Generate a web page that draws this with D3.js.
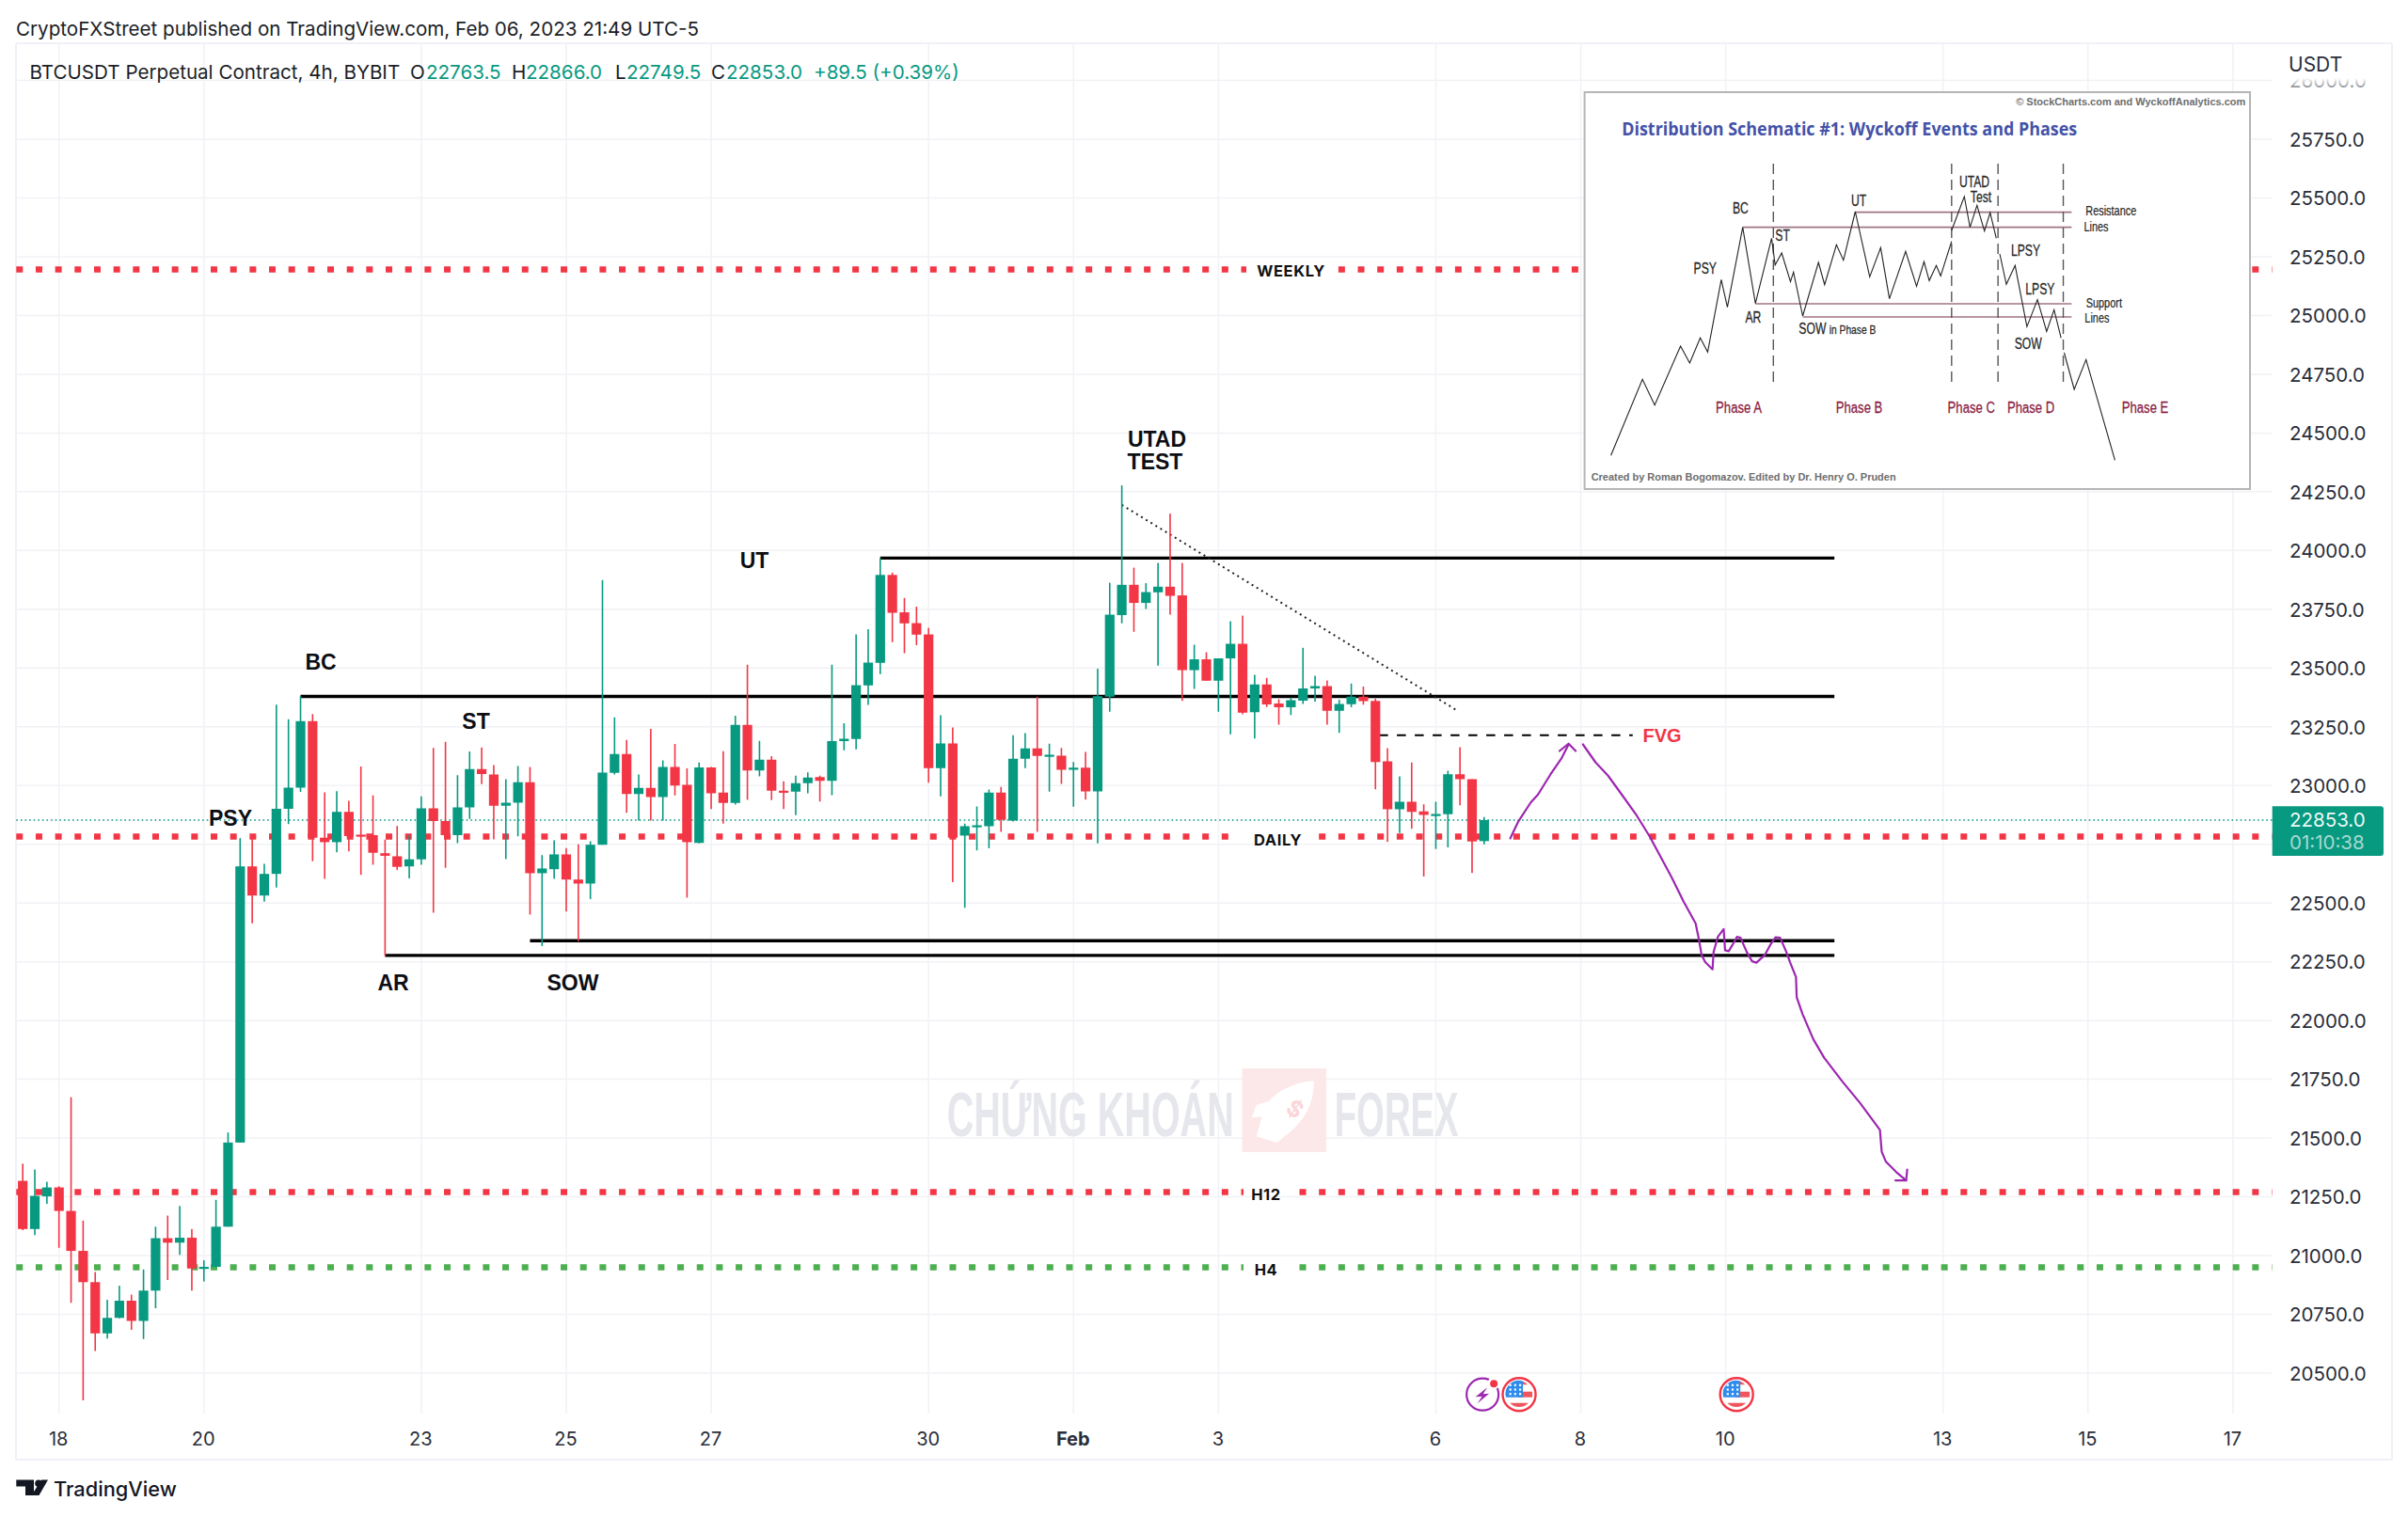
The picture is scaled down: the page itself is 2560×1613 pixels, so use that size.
<!DOCTYPE html>
<html>
<head>
<meta charset="utf-8">
<title>BTCUSDT 4h</title>
<script src="https://d3js.org/d3.v7.min.js"></script>
<style>
  html, body { margin: 0; padding: 0; background: #fff; }
  svg { display: block; font-family: Inter, "Noto Sans", sans-serif; }
  .axis path { display: none; }
  .axis text { fill: #2a2e39; }
  .ann { font-family: "Liberation Sans", Arial, sans-serif; font-weight: 700; fill: #0c0e14; }
  .mini { font-family: "Liberation Sans", sans-serif; fill: #262626; }
</style>
</head>
<body>
<svg width="2560" height="1613"></svg>
<script>
// candles, 4h bars starting Jan 17 12:00
var candleOpen = [21318,21113,21252,21290,21190,21020,20887,20669,20735,20808,
  20722,20851,21074,21055,21076,20945,20952,21123,21481,22656,
  22532,22624,22901,22991,23274,22778,22759,22888,22791,22789,
  22712,22699,22656,22686,22903,22849,22789,22907,23070,23047,
  22914,22927,23014,22627,22644,22707,22600,22583,22748,23054,
  23134,22964,22990,22951,23079,23003,22756,23077,22970,22926,
  23258,23064,23110,22978,22974,23010,23036,23020,23189,23198,
  23426,23522,23896,23737,23691,23643,23074,23179,22787,22826,
  22827,22970,22851,23114,23158,23123,23127,23067,23076,22975,
  23378,23725,23854,23777,23822,23846,23809,23491,23537,23446,
  23541,23603,23312,23430,23349,23333,23361,23413,23423,23318,
  23346,23378,23360,23103,22899,22931,22890,22875,22878,23048,
  23027,22763.5];
var candleHigh = [21391,21366,21314,21295,21674,21149,20930,20812,20872,20834,
  20941,21123,21170,21211,21113,20980,21237,21524,22776,22776,
  22667,23344,23282,23381,23304,22971,22976,22935,23081,22958,
  22770,22828,22789,22954,23160,23186,23044,23145,23162,23087,
  23027,23083,23079,22704,22767,22734,22750,22763,23874,23290,
  23194,23047,23241,23107,23177,23073,23098,23079,23146,23297,
  23514,23190,23125,23018,23042,23056,23042,23514,23265,23643,
  23665,23968,23906,23798,23761,23671,23299,23247,22838,22911,
  22983,22994,23214,23223,23378,23178,23160,23100,23143,23497,
  23863,24277,23927,23861,23947,24157,23947,23599,23567,23541,
  23699,23723,23471,23458,23367,23374,23586,23467,23447,23365,
  23434,23421,23370,23159,23039,23098,22920,22931,23063,23163,
  23027,22866];
var candleLow = [21108,21087,21220,21033,20799,20384,20594,20647,20733,20684,
  20645,20776,20896,21003,20851,20890,20952,21123,21481,22414,
  22506,22566,22836,22973,22678,22603,22716,22720,22620,22663,
  22275,22641,22605,22663,22459,22650,22755,22858,23006,22771,
  22687,22784,22451,22317,22603,22464,22337,22517,22748,23047,
  22884,22851,22851,22851,22958,22523,22754,22900,22838,22919,
  22939,23039,22938,22900,22874,22967,22932,22959,23150,23154,
  23343,23474,23610,23563,23597,23012,22954,22589,22480,22724,
  22733,22803,22847,23074,22803,22974,23007,22910,22940,22754,
  23314,23690,23654,23751,23510,23727,23360,23411,23446,23314,
  23218,23303,23200,23334,23259,23300,23347,23357,23259,23224,
  23333,23344,22984,22760,22798,22816,22613,22730,22737,22916,
  22628,22749.5];
var candleClose = [21113,21254,21290,21190,21020,20887,20669,20735,20808,20722,
  20851,21074,21055,21076,20945,20952,21123,21481,22656,22532,
  22624,22901,22991,23274,22778,22759,22888,22785,22785,22714,
  22701,22654,22686,22903,22849,22789,22907,23070,23049,22914,
  22927,23014,22627,22647,22707,22600,22583,22748,23055,23134,
  22964,22990,22951,23079,23000,22759,23077,22967,22926,23258,
  23064,23110,22978,22974,23010,23034,23020,23189,23199,23427,
  23523,23896,23735,23690,23642,23074,23179,22778,22827,22831,
  22970,22854,23114,23158,23126,23131,23067,23076,22975,23380,
  23727,23854,23777,23823,23846,23807,23491,23537,23446,23541,
  23603,23310,23430,23345,23333,23363,23413,23423,23318,23347,
  23378,23359,23100,22899,22931,22888,22875,22879,23048,23027,
  22762,22853];

var priceTicks = d3.range(20500, 26001, 250);
var dayIndex = [3,15,33,45,57,75,87,99,117,129,141,159,171,183];
var dayLabels = ["18","20","23","25","27","30","Feb","3","6","8","10","13","15","17"];

// key levels, [price, label]
var levelPrices = [25196, 22783, 21270, 20950];
var levelNames = ["WEEKLY", "DAILY", "H12", "H4"];
var levelColors = ["#f23645", "#f23645", "#f23645", "#4caf50"];
var levelGapFrom = [1325, 1317, 1322, 1322];
var levelGapTo = [1420, 1400, 1370, 1370];

// structure lines, start bar and price, all run to bar 150
var rangeStart = [71, 23, 42, 30];
var rangePrice = [23968, 23379, 22340, 22277];
var rangeEnd = 150;

// hand drawn projection, bar index / price
var legUpBar = [123.16,123.81,124.86,125.45,126.49,127.39,127.99];
var legUpPrice = [22775,22845,22928,22961,23047,23114,23175];
var headUpBar = [127.24,127.99,128.58];
var headUpPrice = [23147,23178,23147];
var legDownBar = [129.18,130.22,131.26,132.46,133.65,134.69,135.59,136.48,137.52,138.51,138.77,139.01,139.31,139.91,
  140.0,140.35,140.83,140.95,141.25,141.55,141.93,142.23,142.74,143.19,143.54,144.23,144.68,145.12,145.51,146.02,146.32,
  146.82,146.88,147.36,148.25,149.15,150.64,152.13,153.77,153.92,154.27,155.11,155.94];
var legDownPrice = [23175,23099,23042,22957,22871,22785,22699,22614,22506,22414,22349,22278,22249,22218,
  22292,22356,22389,22299,22295,22321,22356,22352,22292,22252,22246,22278,22321,22354,22352,22292,22249,
  22185,22099,22028,21921,21842,21742,21649,21535,21442,21399,21356,21320];
var headDownBar = [155.05,155.94,156.03];
var headDownPrice = [21320,21320,21366];

// schematic inset, in its own picture units
var schemX = [70,142,170,229,250,274,291,322,336,371,400,437,445,460,480,487,508,544,558,585,601,628,661,686,706,743,768,785,797,813,823,848];
var schemY = [1183,940,1022,834,888,808,853,622,710,455,698,490,575,537,628,598,738,567,638,511,560,405,613,520,683,532,643,565,625,577,610,500];
var schem2X = [848,877,890,906,923,936,950];
var schem2Y = [465,357,455,385,467,408,490];
var schem3X = [958,973,993,1020,1044,1065,1082,1098];
var schem3Y = [540,637,577,772,686,787,718,808];
var schem4X = [1105,1128,1155,1221];
var schem4Y = [855,972,877,1198];
var phaseLineX = [441,848,954,1103];
var resLineFrom = [628,371,400,508];
var resLineY = [407,455,699,741];
var miniLabels = ["PSY","BC","ST","AR","UT","UTAD","Test","LPSY","LPSY","SOW"];
var miniLabelX = [285,366,462,395,636,900,915,1017,1050,1023];
var miniLabelY = [603,412,497,760,388,327,375,545,670,842];
var sideLabels = ["Resistance","Lines","Support","Lines"];
var sideLabelX = [1212,1178,1196,1180];
var sideLabelY = [418,468,712,760];
var phaseLabels = ["Phase A","Phase B","Phase C","Phase D","Phase E"];
var phaseLabelX = [362,637,893,1029,1290];

var GREEN = "#089981", RED = "#f23645", PURPLE = "#9c27b0";

var svg = d3.select("svg");
var x = d3.scaleLinear().domain([3, 183]).range([62.7, 2373.9]);
var y = d3.scaleLinear().domain([25750, 20500]).range([148, 1460]);
var insetX = d3.scaleLinear().domain([0, 1568]).range([1680, 2410]);
var insetY = d3.scaleLinear().domain([0, 1320]).range([90, 530]);
var chartLeft = 17.3, chartRight = 2415.5, chartTop = 46, chartBottom = 1503;

// frame
svg.append("g").attr("stroke", "#f0f1f6").attr("stroke-width", 2)
  .selectAll("line")
  .data([[17, 46, 2543, 46], [17, 46, 17, 1552], [2543, 46, 2543, 1552], [17, 1552, 2543, 1552]])
  .enter().append("line")
  .attr("x1", function(d) { return d[0]; }).attr("y1", function(d) { return d[1]; })
  .attr("x2", function(d) { return d[2]; }).attr("y2", function(d) { return d[3]; });

// grid
var grid = svg.append("g").attr("stroke", "#f1f2f6").attr("stroke-width", 1.5);
grid.selectAll("line.h").data(priceTicks).enter().append("line").attr("class", "h")
  .attr("x1", chartLeft).attr("x2", chartRight)
  .attr("y1", function(d) { return y(d); }).attr("y2", function(d) { return y(d); });
grid.selectAll("line.v").data(dayIndex).enter().append("line").attr("class", "v")
  .attr("y1", chartTop).attr("y2", chartBottom)
  .attr("x1", function(d) { return x(d); }).attr("x2", function(d) { return x(d); });

// watermark, squeezed to the logo's condensed lettering
function squeezed(t, left, base, width) {
  var el = mark.append("text").text(t)
    .attr("font-family", "'Liberation Sans'").attr("font-weight", 700)
    .attr("font-size", 67).attr("fill", "#e6e7ec");
  var k = width / el.node().getComputedTextLength();
  el.attr("transform", "translate(" + left + "," + base + ") scale(" + k + ",1)");
}
var mark = svg.append("g");
squeezed("CHỨNG KHOÁN", 1006.7, 1208, 305);
mark.append("rect").attr("x", 1320.6).attr("y", 1136).attr("width", 89.4).attr("height", 89).attr("fill", "#fde8e9");
mark.append("path")
  .attr("transform", "translate(960,1100) scale(0.3954,0.3333)")
  .attr("d", "M1105,148 C1060,150 1005,180 985,212 L950,225 L938,265 L965,262 L950,325 L1005,345 L1040,312 C1090,262 1105,205 1105,148 Z")
  .attr("fill", "#fff");
mark.append("text").text("$")
  .attr("transform", "translate(1372,1186) rotate(35)")
  .attr("text-anchor", "middle").attr("font-size", 24).attr("font-weight", 700).attr("fill", "#fbd5d8");
squeezed("FOREX", 1418.7, 1208, 132);

// dotted key levels, split around their labels and keeping the dash phase
function levelPiece(i, from, to) {
  svg.append("line")
    .attr("x1", from).attr("x2", to)
    .attr("y1", y(levelPrices[i])).attr("y2", y(levelPrices[i]))
    .attr("stroke", levelColors[i]).attr("stroke-width", 6.6)
    .attr("stroke-dasharray", "7 13.67")
    .attr("stroke-dashoffset", from - chartLeft);
}
levelPrices.forEach(function(p, i) {
  levelPiece(i, chartLeft, levelGapFrom[i]);
  levelPiece(i, levelGapTo[i], chartRight);
});
svg.selectAll("text.level").data(levelNames).enter().append("text")
  .attr("class", "level")
  .attr("x", function(d, i) { return (levelGapFrom[i] + levelGapTo[i]) / 2; })
  .attr("y", function(d, i) { return y(levelPrices[i]) + (d == "DAILY" ? 9.5 : 8); })
  .attr("text-anchor", "middle").attr("font-size", 16.5).attr("font-weight", 700)
  .attr("letter-spacing", 0.6).attr("fill", "#111")
  .text(function(d) { return d; });

// last price line
svg.append("line")
  .attr("x1", chartLeft).attr("x2", chartRight)
  .attr("y1", y(22853)).attr("y2", y(22853))
  .attr("stroke", GREEN).attr("stroke-width", 1.6).attr("stroke-dasharray", "1.6 3");

// structure lines
svg.append("g").selectAll("line").data(rangeStart).enter().append("line")
  .attr("x1", function(d) { return x(d); }).attr("x2", x(rangeEnd))
  .attr("y1", function(d, i) { return y(rangePrice[i]); })
  .attr("y2", function(d, i) { return y(rangePrice[i]); })
  .attr("stroke", "#000").attr("stroke-width", 3.4);

// FVG and trend line
svg.append("line")
  .attr("x1", x(112.3)).attr("x2", x(133.3)).attr("y1", y(23214)).attr("y2", y(23214))
  .attr("stroke", "#000").attr("stroke-width", 2).attr("stroke-dasharray", "9.5 9.5");
svg.append("line")
  .attr("x1", x(91)).attr("x2", x(118.8)).attr("y1", y(24194)).attr("y2", y(23318))
  .attr("stroke", "#222").attr("stroke-width", 2).attr("stroke-dasharray", "2 4");

// candles
var candles = svg.append("g").selectAll("g").data(candleOpen).enter().append("g")
  .attr("fill", function(d, i) { return candleClose[i] >= d ? GREEN : RED; });
candles.append("rect")
  .attr("x", function(d, i) { return x(i) - 0.8; })
  .attr("width", 1.6)
  .attr("y", function(d, i) { return y(candleHigh[i]); })
  .attr("height", function(d, i) { return y(candleLow[i]) - y(candleHigh[i]); });
candles.append("rect")
  .attr("x", function(d, i) { return x(i) - 5.1; })
  .attr("width", 10.2)
  .attr("y", function(d, i) { return y(Math.max(d, candleClose[i])); })
  .attr("height", function(d, i) { return Math.max(2.2, Math.abs(y(d) - y(candleClose[i]))); });

// hand drawn arrows
var drawn = d3.line()
  .x(function(d) { return x(d[0]); })
  .y(function(d) { return y(d[1]); });
[[legUpBar, legUpPrice], [headUpBar, headUpPrice], [legDownBar, legDownPrice], [headDownBar, headDownPrice]].forEach(function(s) {
  svg.append("path")
    .attr("d", drawn(d3.zip(s[0], s[1])))
    .attr("fill", "none").attr("stroke", PURPLE).attr("stroke-width", 2.2).attr("stroke-linejoin", "round").attr("stroke-linecap", "round");
});

// event labels
function ann(t, cx, by, size) {
  svg.append("text").attr("class", "ann").attr("x", cx).attr("y", by)
    .attr("text-anchor", "middle").attr("font-size", size || 23).text(t);
}
ann("PSY", 245, 878);
ann("BC", 341, 712);
ann("ST", 506, 775);
ann("AR", 418, 1053);
ann("SOW", 609, 1053);
ann("UT", 802, 604);
ann("UTAD", 1230, 475);
ann("TEST", 1228, 499);
svg.append("text").attr("class", "ann").attr("x", 1767).attr("y", 789).attr("text-anchor", "middle")
  .attr("font-size", 20).style("fill", RED).text("FVG");

// schematic inset
var inset = svg.append("g");
inset.append("rect").attr("x", 1684.6).attr("y", 98).attr("width", 707.4).attr("height", 422)
  .attr("fill", "#fff").attr("stroke", "#b5b5b5").attr("stroke-width", 2);
var miniLine = d3.line()
  .x(function(d) { return insetX(d[0]); })
  .y(function(d) { return insetY(d[1]); });
inset.selectAll("line.res").data(resLineFrom).enter().append("line").attr("class", "res")
  .attr("x1", function(d) { return insetX(d); }).attr("x2", insetX(1122))
  .attr("y1", function(d, i) { return insetY(resLineY[i]); })
  .attr("y2", function(d, i) { return insetY(resLineY[i]); })
  .attr("stroke", "#a07484").attr("stroke-width", 1.6);
inset.selectAll("line.phase").data(phaseLineX).enter().append("line").attr("class", "phase")
  .attr("x1", function(d) { return insetX(d); }).attr("x2", function(d) { return insetX(d); })
  .attr("y1", insetY(252)).attr("y2", insetY(955))
  .attr("stroke", "#555").attr("stroke-width", 1.4).attr("stroke-dasharray", "11 6");
[[schemX, schemY], [schem2X, schem2Y], [schem3X, schem3Y], [schem4X, schem4Y]].forEach(function(s) {
  inset.append("path").attr("d", miniLine(d3.zip(s[0], s[1])))
    .attr("fill", "none").attr("stroke", "#222").attr("stroke-width", 1.1);
});
// narrow lettering of the pasted picture
function placeNarrow(cx, by, k) {
  return "translate(" + insetX(cx) + "," + insetY(by) + ") scale(" + k + ",1)";
}
inset.selectAll("text.mini1").data(miniLabels).enter().append("text").attr("class", "mini mini1")
  .attr("transform", function(d, i) { return placeNarrow(miniLabelX[i], miniLabelY[i], 0.76); })
  .attr("text-anchor", "middle").attr("font-size", 16).attr("stroke", "#262626").attr("stroke-width", 0.25)
  .text(function(d) { return d; });
inset.append("text").attr("class", "mini")
  .attr("transform", placeNarrow(587, 795, 0.76))
  .attr("text-anchor", "middle").attr("font-size", 16).attr("stroke", "#262626").attr("stroke-width", 0.25)
  .html('SOW <tspan font-size="13.5">in Phase B</tspan>');
inset.selectAll("text.mini2").data(sideLabels).enter().append("text").attr("class", "mini mini2")
  .attr("transform", function(d, i) { return placeNarrow(sideLabelX[i], sideLabelY[i], 0.78); })
  .attr("text-anchor", "middle").attr("font-size", 14).attr("stroke", "#262626").attr("stroke-width", 0.2)
  .text(function(d) { return d; });
inset.selectAll("text.mini3").data(phaseLabels).enter().append("text").attr("class", "mini mini3")
  .attr("transform", function(d, i) { return placeNarrow(phaseLabelX[i], 1046, 0.82); })
  .attr("text-anchor", "middle").attr("font-size", 16).attr("stroke", "#8b1c3f").attr("stroke-width", 0.25)
  .style("fill", "#8b1c3f")
  .text(function(d) { return d; });
inset.append("text").text("Distribution Schematic #1: Wyckoff Events and Phases")
  .attr("x", insetX(95)).attr("y", insetY(162))
  .attr("textLength", 484).attr("lengthAdjust", "spacingAndGlyphs")
  .attr("font-family", "'Open Sans'").attr("font-size", 19).attr("font-weight", 700).attr("fill", "#4452a8");
inset.append("text").text("© StockCharts.com and WyckoffAnalytics.com")
  .attr("x", insetX(995)).attr("y", insetY(65))
  .attr("textLength", 244).attr("lengthAdjust", "spacingAndGlyphs")
  .attr("font-family", "'Liberation Sans'").attr("font-size", 11).attr("font-weight", 700).attr("fill", "#6e6e6e");
inset.append("text").text("Created by Roman Bogomazov. Edited by Dr. Henry O. Pruden")
  .attr("x", insetX(25)).attr("y", insetY(1263))
  .attr("textLength", 324).attr("lengthAdjust", "spacingAndGlyphs")
  .attr("font-family", "'Liberation Sans'").attr("font-size", 11.5).attr("font-weight", 700).attr("fill", "#6e6e6e");

// price axis
var priceAxis = d3.axisRight(y).tickValues(priceTicks).tickSize(0).tickPadding(0).tickFormat(d3.format(".1f"));
svg.append("g").attr("class", "axis")
  .attr("transform", "translate(2434,0.7)")
  .call(priceAxis)
  .selectAll("text").attr("font-family", "Inter").attr("font-size", 20.5);

// top of the axis fades under the currency label
var fade = svg.append("defs").append("linearGradient").attr("id", "fade").attr("x1", 0).attr("x2", 0).attr("y1", 0).attr("y2", 1);
fade.append("stop").attr("offset", "0%").attr("stop-color", "#fff");
fade.append("stop").attr("offset", "100%").attr("stop-color", "#fff").attr("stop-opacity", 0.35);
svg.append("rect").attr("x", 2420).attr("y", 47).attr("width", 120).attr("height", 36).attr("fill", "#fff");
svg.append("rect").attr("x", 2420).attr("y", 83).attr("width", 120).attr("height", 12).attr("fill", "url(#fade)");
svg.append("text").text("USDT").attr("x", 2433).attr("y", 76).attr("font-size", 21).attr("fill", "#2a2e39");

// last price tag
svg.append("path").attr("d", "M2415.7,857.3 H2531 a3,3 0 0 1 3,3 V907 a3,3 0 0 1 -3,3 H2415.7 Z").attr("fill", GREEN);
svg.append("text").text("22853.0").attr("x", 2434).attr("y", 879).attr("font-size", 20.5).attr("fill", "#fff").attr("fill-opacity", 0.95);
svg.append("text").text("01:10:38").attr("x", 2434).attr("y", 903).attr("font-size", 20.5).attr("fill", "#fff").attr("fill-opacity", 0.65);

// time axis
var timeAxis = d3.axisBottom(x).tickValues(dayIndex).tickSize(0).tickPadding(0)
  .tickFormat(function(d, i) { return dayLabels[i]; });
svg.append("g").attr("class", "axis")
  .attr("transform", "translate(-1,1522.5)")
  .call(timeAxis)
  .selectAll("text").attr("font-family", "Inter").attr("font-size", 20)
  .attr("font-weight", function(d, i) { return dayLabels[i] == "Feb" ? 700 : 400; });

// economic event markers
var evt = svg.append("g").attr("transform", "translate(" + x(120.87) + ",1482.7)");
evt.append("circle").attr("r", 17).attr("fill", "none").attr("stroke", PURPLE).attr("stroke-width", 2.2);
evt.append("circle").attr("cx", 12).attr("cy", -12).attr("r", 6.5).attr("fill", "#fff");
evt.append("circle").attr("cx", 12).attr("cy", -11.5).attr("r", 4).attr("fill", RED);
evt.append("path").attr("d", "M5,-7.5 L-7.5,2.5 L-0.5,2 L-5.5,9.5 L7,-1 L0.5,-0.5 Z").attr("fill", PURPLE);

function usFlag(bar) {
  var g = svg.append("g").attr("transform", "translate(" + x(bar) + ",1482.7)");
  g.append("circle").attr("r", 14).attr("fill", "#fff");
  g.append("rect").attr("x", -1).attr("y", -3).attr("width", 15).attr("height", 6).attr("fill", "#f0555c");
  g.append("path").attr("d", "M-10,9 H10 A14,14 0 0 1 -10,9 Z").attr("fill", "#f0555c");
  g.append("path").attr("d", "M0,-14 H4 A14,14 0 0 1 9,-10.5 H0 Z").attr("fill", "#f0555c");
  g.append("path").attr("d", "M4,-14 V3 H-14 A14,14 0 0 1 4,-14 Z").attr("fill", "#2f8cec");
  g.selectAll("rect.star").data(d3.range(9)).enter().append("rect").attr("class", "star")
    .attr("x", function(d) { return -10.5 + (d % 3) * 5.2; })
    .attr("y", function(d) { return -11 + Math.floor(d / 3) * 4.7; })
    .attr("width", 2.2).attr("height", 2.2).attr("fill", "#fff");
  g.append("circle").attr("r", 17.5).attr("fill", "none").attr("stroke", RED).attr("stroke-width", 2.4);
}
usFlag(123.9);
usFlag(141.9);

// header and legend
svg.append("text").text("CryptoFXStreet published on TradingView.com, Feb 06, 2023 21:49 UTC-5")
  .attr("x", 17).attr("y", 37.5).attr("font-size", 20.6).attr("fill", "#1b1e26");
var legend = svg.append("text").attr("y", 84).attr("font-size", 20.6).attr("fill", "#1b1e26");
legend.append("tspan").attr("x", 31.5).text("BTCUSDT Perpetual Contract, 4h, BYBIT");
[["O", 436], ["H", 544], ["L", 654], ["C", 756]].forEach(function(l) {
  legend.append("tspan").attr("x", l[1]).text(l[0]);
});
[["22763.5", 453], ["22866.0", 559], ["22749.5", 666], ["22853.0", 772], ["+89.5 (+0.39%)", 865]].forEach(function(l) {
  svg.append("text").text(l[0]).attr("x", l[1]).attr("y", 84).attr("font-size", 20.6).attr("fill", GREEN);
});

// footer logo
var logo = svg.append("g").attr("fill", "#131722");
logo.append("path").attr("d", "M17.3,1573.5 H36 V1590 H27 V1580.5 H17.3 Z");
logo.append("circle").attr("cx", 41).attr("cy", 1577.3).attr("r", 3.8);
logo.append("path").attr("d", "M44,1573.5 H51 L41.5,1590 H33.5 Z");
svg.append("text").text("TradingView").attr("x", 57).attr("y", 1590.5).attr("font-size", 21.8).attr("font-weight", 500).attr("fill", "#131722");
</script>
</body>
</html>
